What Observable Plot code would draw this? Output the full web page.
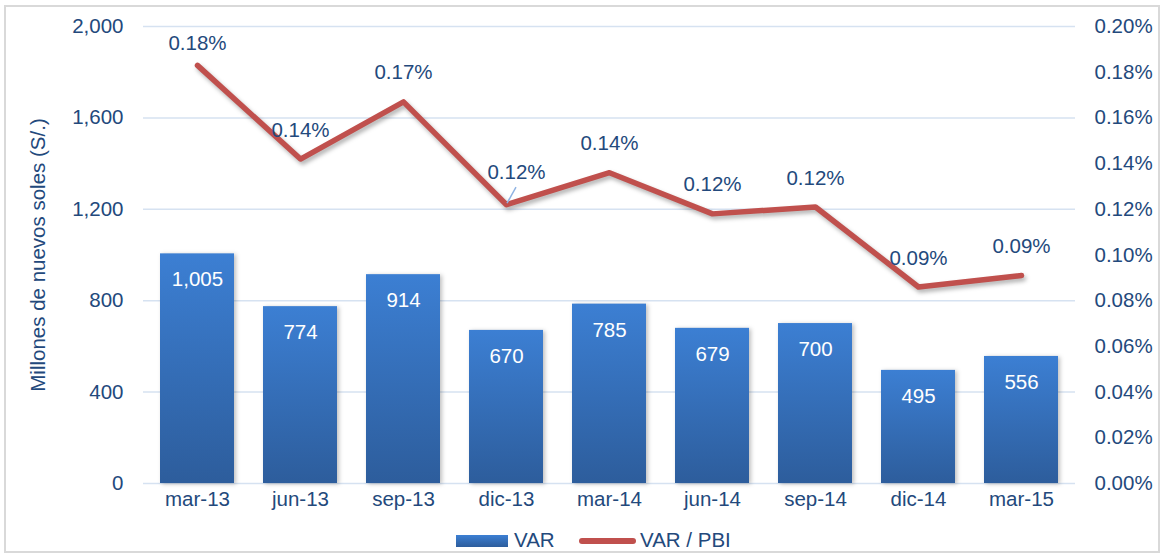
<!DOCTYPE html>
<html><head><meta charset="utf-8">
<script src="https://cdn.jsdelivr.net/npm/d3@7"></script>
<script src="https://cdn.jsdelivr.net/npm/@observablehq/plot@0.6"></script>
<style>
html,body{margin:0;padding:0;background:#fff;}
body{width:1165px;height:558px;position:relative;overflow:hidden;font-family:"Liberation Sans",Arial,sans-serif;}
#frame{position:absolute;left:4px;top:5px;width:1156px;height:548px;border:2px solid #d9d9d9;box-sizing:border-box;}
#chart{position:absolute;left:0;top:0;}
#chart g[aria-label="line"]{filter:drop-shadow(2px 3px 2px rgba(0,0,0,0.3));}
#chart g[aria-label="bar"]{filter:drop-shadow(2px 1px 2px rgba(0,0,0,0.25));}
#legend{position:absolute;top:527px;left:0;width:1165px;height:28px;font-size:20.5px;color:#23497c;}
.sw{position:absolute;}
#ytitle{position:absolute;left:38px;top:255px;transform:translate(-50%,-50%) rotate(-90deg);white-space:nowrap;font-size:20.5px;color:#23497c;}
</style></head>
<body>
<div id="frame"></div>
<div id="chart"></div>
<div id="ytitle">Millones de nuevos soles (S/.)</div>
<div id="legend">
  <div class="sw" style="left:456px;top:8px;width:52px;height:12px;background:linear-gradient(#3c7fd3,#2d5d9c);"></div>
  <div class="sw" style="left:514px;top:1px;">VAR</div>
  <div class="sw" style="left:579px;top:11px;width:57px;height:6px;border-radius:3px;background:#c0504d;"></div>
  <div class="sw" style="left:640px;top:1px;">VAR / PBI</div>
</div>
<script>
const categories = ["mar-13","jun-13","sep-13","dic-13","mar-14","jun-14","sep-14","dic-14","mar-15"];
const varValues = [1005, 774, 914, 670, 785, 679, 700, 495, 556];
const ratioPct = [0.183, 0.142, 0.167, 0.122, 0.136, 0.118, 0.121, 0.086, 0.091];
const leftTicks = [0, 400, 800, 1200, 1600, 2000];
const rightTicks = [0, 0.02, 0.04, 0.06, 0.08, 0.10, 0.12, 0.14, 0.16, 0.18, 0.20];

const data = categories.map((c, i) => ({cat: c, v: varValues[i], r: ratioPct[i], ry: ratioPct[i] / 0.2 * 2000}));
const textColor = "#23497c";
const fmt = d3.format(",");

const plot = Plot.plot({
  width: 1165,
  height: 515,
  marginLeft: 143,
  marginRight: 90,
  marginTop: 26,
  marginBottom: 32,
  style: {fontFamily: '"Liberation Sans", Arial, sans-serif', fontSize: "20.5px", color: textColor, background: "transparent"},
  x: {domain: categories, paddingInner: 0.285, paddingOuter: 0.1425, label: null},
  y: {domain: [0, 2000], label: null},
  marks: [
    Plot.gridY(leftTicks, {stroke: "#d6e2f1", strokeOpacity: 1, strokeWidth: 1.5}),
    Plot.barY(data, {x: "cat", y: "v", fill: "url(#barGrad)"}),
    Plot.text(data, {x: "cat", y: "v", text: d => fmt(d.v), dy: 26, fill: "white", fontSize: 20.5}),
    Plot.line(data, {x: "cat", y: "ry", stroke: "#c0504d", strokeWidth: 5.5, strokeLinecap: "round", strokeLinejoin: "round"}),
    (index, scales) => {
      const g = document.createElementNS("http://www.w3.org/2000/svg", "g");
      const d = data[3];
      const cx = scales.x(d.cat) + scales.x.bandwidth() / 2;
      const cy = scales.y(d.ry);
      const ln = document.createElementNS("http://www.w3.org/2000/svg", "line");
      ln.setAttribute("x1", cx + 1); ln.setAttribute("y1", cy - 1);
      ln.setAttribute("x2", cx + 10); ln.setAttribute("y2", cy - 17);
      ln.setAttribute("stroke", "#8fb3e3"); ln.setAttribute("stroke-width", 1.5);
      g.appendChild(ln);
      return g;
    },
    Plot.text(data.filter((d, i) => i !== 0 && i !== 3), {x: "cat", y: "ry", text: d => d.r.toFixed(2) + "%", dy: -29, fill: textColor}),
    Plot.text(data.filter((d, i) => i === 0), {x: "cat", y: "ry", text: d => d.r.toFixed(2) + "%", dy: -22, fill: textColor}),
    Plot.text(data.filter((d, i) => i === 3), {x: "cat", y: "ry", text: d => d.r.toFixed(2) + "%", dy: -32, dx: 10, fill: textColor}),
    Plot.axisX({tickSize: 0, tickPadding: 8, label: null, fill: textColor}),
    Plot.axisY(leftTicks, {anchor: "left", tickSize: 0, tickPadding: 20, tickFormat: d => fmt(d), label: null, fill: textColor}),
    Plot.axisY(rightTicks.map(t => t * 10000), {anchor: "right", tickSize: 0, tickPadding: 19, tickFormat: d => (d / 10000).toFixed(2) + "%", label: null, fill: textColor})
  ]
});

const defs = document.createElementNS("http://www.w3.org/2000/svg", "defs");
defs.innerHTML = '<linearGradient id="barGrad" x1="0" y1="0" x2="0" y2="1"><stop offset="0" stop-color="#3c7fd3"/><stop offset="1" stop-color="#2d5d9c"/></linearGradient>';
plot.insertBefore(defs, plot.firstChild);
document.getElementById("chart").appendChild(plot);
</script>
</body></html>
